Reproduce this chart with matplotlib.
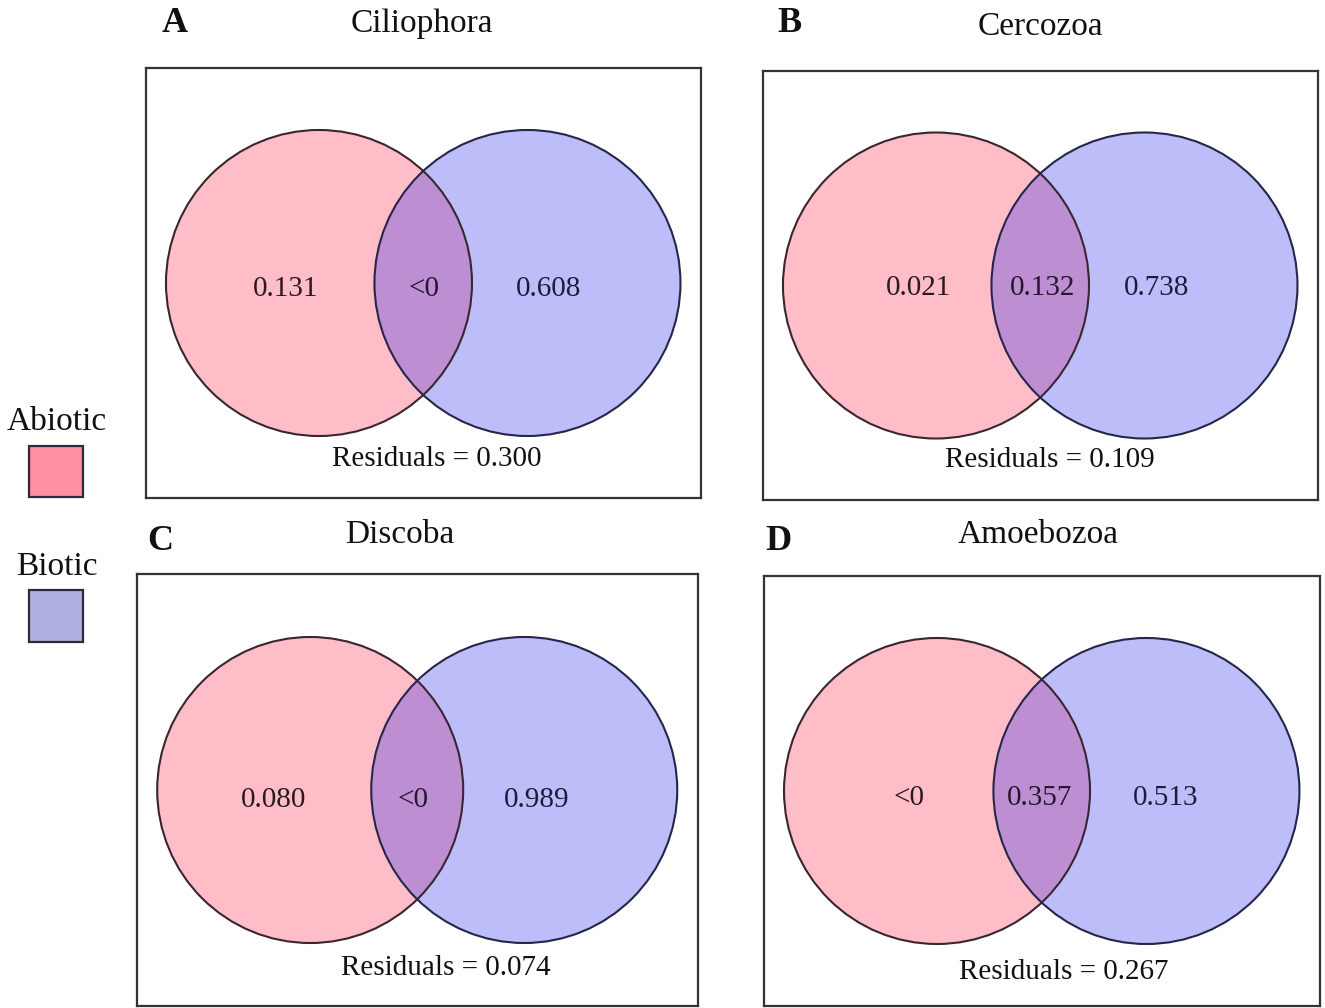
import matplotlib
matplotlib.use("Agg")
import matplotlib.pyplot as plt
from matplotlib.patches import Circle, Rectangle

# variance partitioning values (as printed on the chart)
panel_letters = ["A", "B", "C", "D"]
groups = ["Ciliophora", "Cercozoa", "Discoba", "Amoebozoa"]
abiotic_only = ["0.131", "0.021", "0.080", "<0"]
shared = ["<0", "0.132", "<0", "0.357"]
biotic_only = ["0.608", "0.738", "0.989", "0.513"]
residuals = ["0.300", "0.109", "0.074", "0.267"]
legend_labels = ["Abiotic", "Biotic"]

W, H = 1325, 1008
plt.rcParams["font.family"] = ["Liberation Serif", "DejaVu Serif"]

fig = plt.figure(figsize=(W / 100, H / 100), dpi=100)
fig.patch.set_facecolor("white")

# layout (pixels): panel boxes, titles, letters, label x-fractions
boxes = [(146, 68, 701, 498), (763, 71, 1318, 500),
         (137, 574, 698, 1006), (764, 576, 1320, 1006)]
title_pos = [(422, 24), (1040, 27), (400, 535), (1038, 535)]
letter_pos = [(175, 24), (790, 24), (160, 542), (778, 542)]
label_fx = [(0.252, 0.50, 0.725), (0.28, 0.503, 0.71),
            (0.244, 0.492, 0.713), (0.26, 0.495, 0.722)]
label_fy = [0.514, 0.506, 0.522, 0.516]
resid_f = [(0.523, 0.909), (0.516, 0.907), (0.551, 0.913), (0.539, 0.922)]

pink = (255 / 255, 38 / 255, 72 / 255)
blue = (38 / 255, 38 / 255, 238 / 255)
alpha = 0.3
r = 153


def to_fig(l, t, rr, b):
    return [l / W, 1 - b / H, (rr - l) / W, (b - t) / H]


for i in range(4):
    l, t, rr, b = boxes[i]
    w, h = rr - l, b - t
    ax = fig.add_axes(to_fig(l, t, rr, b))
    ax.set_xlim(0, w)
    ax.set_ylim(h, 0)
    ax.set_xticks([])
    ax.set_yticks([])
    for s in ax.spines.values():
        s.set_linewidth(1.6)
        s.set_edgecolor("#333333")

    cy = 0.5 * h
    cx_left = 0.036 * w + r
    cx_right = 0.963 * w - r
    ax.add_patch(Circle((cx_left, cy), r, facecolor=pink, alpha=alpha, edgecolor="none"))
    ax.add_patch(Circle((cx_right, cy), r, facecolor=blue, alpha=alpha, edgecolor="none"))
    ax.add_patch(Circle((cx_left, cy), r, facecolor="none", edgecolor="#3a2630", lw=1.5))
    ax.add_patch(Circle((cx_right, cy), r, facecolor="none", edgecolor="#26264a", lw=1.5))

    ly = label_fy[i] * h
    fx = label_fx[i]
    ax.text(fx[0] * w, ly, abiotic_only[i], ha="center", va="center", fontsize=21, color="#2a1a1e")
    ax.text(fx[1] * w, ly, shared[i], ha="center", va="center", fontsize=21, color="#26162e")
    ax.text(fx[2] * w, ly, biotic_only[i], ha="center", va="center", fontsize=21, color="#1c1c3c")
    ax.text(resid_f[i][0] * w, resid_f[i][1] * h, "Residuals = " + residuals[i],
            ha="center", va="center", fontsize=21, color="#111111")

    fig.text(title_pos[i][0] / W, 1 - title_pos[i][1] / H, groups[i],
             ha="center", va="center", fontsize=24, color="#111111")
    fig.text(letter_pos[i][0] / W, 1 - letter_pos[i][1] / H, panel_letters[i],
             ha="center", va="center", fontsize=26, fontweight="bold", color="#111111")

# legend on the left
leg_ax = fig.add_axes([0, 0, 1, 1], zorder=-1)
leg_ax.set_xlim(0, W)
leg_ax.set_ylim(H, 0)
leg_ax.axis("off")
leg_colors = ["#ff8fa0", "#afb2e0"]
leg_text_y = [422, 567]
leg_box = [(29, 446, 54, 51), (29, 590, 54, 52)]
for k in range(2):
    leg_ax.text(57, leg_text_y[k], legend_labels[k], ha="center", va="center",
                fontsize=24, color="#111111")
    x0, y0, bw, bh = leg_box[k]
    leg_ax.add_patch(Rectangle((x0, y0), bw, bh, facecolor=leg_colors[k],
                               edgecolor="#2a2a3a", lw=1.6))

fig.savefig("out.png", dpi=100, facecolor="white")
